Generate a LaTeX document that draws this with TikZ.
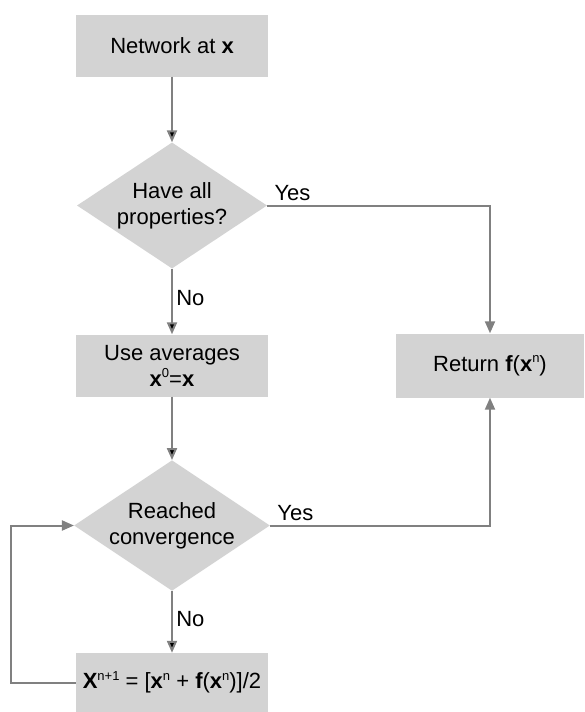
\documentclass[tikz,border=0pt]{standalone}
\usepackage{fontspec}
\setmainfont{Liberation Sans}
\usetikzlibrary{shapes.geometric,positioning,arrows.meta}
\definecolor{boxgray}{HTML}{D3D3D3}
\definecolor{linkgray}{HTML}{808080}
\newcommand{\expo}[1]{\raisebox{8.5pt}{\fontsize{13}{13}\selectfont #1}}

\tikzset{
  block/.style={rectangle, fill=boxgray, minimum width=192pt, minimum height=62pt, align=center},
  decision/.style={diamond, fill=boxgray, aspect=1.5, inner sep=0pt, minimum width=190pt, minimum height=126pt, align=center},
  link/.style={draw=linkgray, line width=2pt},
}

\begin{document}
\begin{tikzpicture}[node distance=160pt, on grid, >={Triangle[length=12pt,width=10pt]},
    font=\fontsize{22}{26}\selectfont]
    \useasboundingbox (0,0) rectangle (584pt,-712pt);
    \node [block] (net) at (172pt,-45.5pt) {Network at \textbf{x}};
    \node [decision] [below=of net] (allprop) {Have all\\properties?};
    \node [block] [below=of allprop] (avg) {Use averages\\\textbf{x}\expo{0}=\textbf{x}};
    \node [decision] [below=of avg] (conv) {Reached\\convergence};
    \node [block, minimum height=59pt] [below=157pt of conv] (update)
      {\textbf{X}\expo{n+1} = [\textbf{x}\expo{n} + \textbf{f}(\textbf{x}\expo{n})]/2};
    \node [block, minimum width=188pt, minimum height=64pt] [right=318pt of avg] (ret)
      {Return \textbf{f}(\textbf{x}\expo{n})};
      \path[->, link]
      (net) edge (allprop)
      (allprop) edge node [right, pos=0.45] {No} (avg)
      (avg) edge (conv)
      (conv) edge node [right, pos=0.45] {No} (update)
      ;
      \draw[->, link] (allprop.east) node [above right, xshift=3pt] {Yes} -| (ret.north);
      \draw[->, link] (conv.east) node [above right, xshift=3pt] {Yes} -| (ret.south);
      \draw[->, link] (update.west) -- ++(-65pt,0) |- (conv.west);
  \end{tikzpicture}
\end{document}
